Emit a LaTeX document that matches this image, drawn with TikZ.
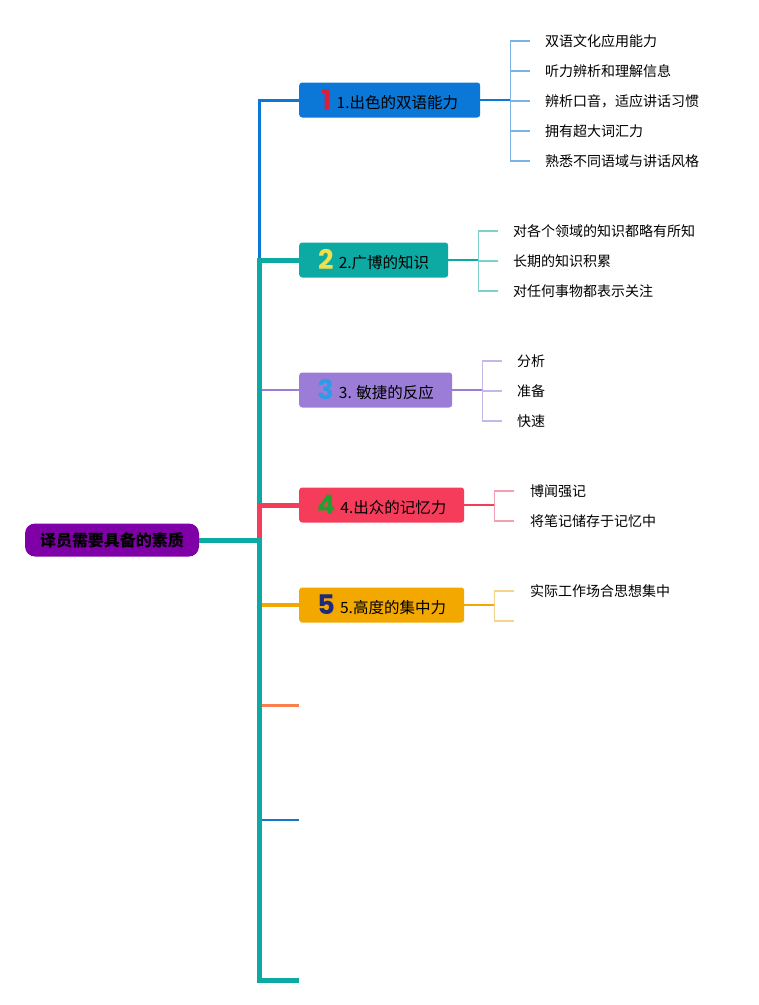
\documentclass[tikz,border=0pt]{standalone}
\usepackage{fontspec}
\setmainfont{Noto Sans CJK SC}
\newfontfamily\numfont{Poppins}
\usepackage{tikz}
\usepackage{xcolor}
\definecolor{rootpurple}{HTML}{7E00A6}
\definecolor{topicblue}{HTML}{0B77D6}
\definecolor{topicteal}{HTML}{0DAAA4}
\definecolor{topicviolet}{HTML}{9B7DD8}
\definecolor{topicred}{HTML}{F53D5B}
\definecolor{topicgold}{HTML}{F3A800}
\definecolor{lineorange}{HTML}{F7804E}
\definecolor{lineblue}{HTML}{1677C6}
\definecolor{kidblue}{HTML}{7DB3E0}
\definecolor{kidteal}{HTML}{7ED0CC}
\definecolor{kidviolet}{HTML}{C5B8E8}
\definecolor{kidred}{HTML}{F0A0B0}
\definecolor{kidgold}{HTML}{F5D48C}
\definecolor{numred}{HTML}{D8203C}
\definecolor{numyellow}{HTML}{F2DF4C}
\definecolor{numblue}{HTML}{2E9BE6}
\definecolor{numgreen}{HTML}{22A02F}
\definecolor{numnavy}{HTML}{1E2A7A}
\newcommand{\bignum}[2]{{\numfont\fontsize{27}{27}\selectfont\bfseries\color{#1}\raisebox{-1pt}{#2}}}
\tikzset{
    root-box/.style = {fill=rootpurple, rounded corners=10pt, minimum width=174pt, minimum height=33pt, inner sep=0pt, font=\fontsize{16}{18}\selectfont\bfseries},
    topic-box/.style = {rounded corners=3pt, anchor=west, minimum height=35pt, inner sep=0pt, font=\fontsize{15.5}{18}\selectfont},
    sub-text/.style = {anchor=west, inner sep=0pt, font=\fontsize{14}{16}\selectfont},
    kid-line/.style = {line width=1.5pt},
}
\begin{document}
\begin{tikzpicture}[x=1pt, y=-1pt]
\useasboundingbox (0,0) rectangle (759,1005);
\node [root-box] (root) at (112,540) {译员需要具备的素质};
\node [topic-box, fill=topicblue, minimum width=181pt] (b1) at (299,100) {\bignum{numred}{1}\,\,1.出色的双语能力};
\node [topic-box, fill=topicteal, minimum width=149pt] (b2) at (299,260) {\bignum{numyellow}{2}\,\,2.广博的知识};
\node [topic-box, fill=topicviolet, minimum width=153pt] (b3) at (299,390) {\bignum{numblue}{3}\,\,3. 敏捷的反应};
\node [topic-box, fill=topicred, minimum width=165pt] (b4) at (299,505) {\bignum{numgreen}{4}\,\,4.出众的记忆力};
\node [topic-box, fill=topicgold, minimum width=165pt] (b5) at (299,605) {\bignum{numnavy}{5}\,\,5.高度的集中力};
\coordinate (hub) at (259,540);
\coordinate (e1) at (299,705);
\coordinate (e2) at (299,820);
\coordinate (e3) at (299,980);

\draw [topicblue, line width=3pt] (root.east) -- (hub) |- (b1.west);
\draw [topicviolet, line width=2pt] (root.east) -- (hub) |- (b3.west);
\draw [topicteal, line width=5pt] (root.east) -- (hub) |- (b2.west);
\draw [topicred, line width=5pt] (root.east) -- (hub) |- (b4.west);
\draw [topicgold, line width=4pt] (root.east) -- (hub) |- (b5.west);
\draw [lineorange, line width=3pt] (root.east) -- (hub) |- (e1);
\draw [lineblue, line width=2pt] (root.east) -- (hub) |- (e2);
\draw [topicteal, line width=5pt] (root.east) -- (hub) |- (e3);

\node [sub-text] (k11) at (545,41) {双语文化应用能力};
\node [sub-text] (k12) at (545,71) {听力辨析和理解信息};
\node [sub-text] (k13) at (545,101) {辨析口音，适应讲话习惯};
\node [sub-text] (k14) at (545,131) {拥有超大词汇力};
\node [sub-text] (k15) at (545,161) {熟悉不同语域与讲话风格};
\draw [topicblue, line width=2pt] (b1.east) -- ++(30,0) coordinate (j1);
\draw [kidblue, kid-line] (j1 |- k11.west) -- ++(20,0) (j1 |- k12.west) -- ++(20,0) (j1 |- k13.west) -- ++(20,0) (j1 |- k14.west) -- ++(20,0) (j1 |- k15.west) -- ++(20,0);
\draw [kidblue, kid-line] (j1 |- k11.west) -- (j1 |- k15.west);

\node [sub-text] (k21) at (513,231) {对各个领域的知识都略有所知};
\node [sub-text] (k22) at (513,261) {长期的知识积累};
\node [sub-text] (k23) at (513,291) {对任何事物都表示关注};
\draw [topicteal, line width=2pt] (b2.east) -- ++(30,0) coordinate (j2);
\draw [kidteal, kid-line] (j2 |- k21.west) -- ++(20,0) (j2 |- k22.west) -- ++(20,0) (j2 |- k23.west) -- ++(20,0);
\draw [kidteal, kid-line] (j2 |- k21.west) -- (j2 |- k23.west);

\node [sub-text] (k31) at (517,361) {分析};
\node [sub-text] (k32) at (517,391) {准备};
\node [sub-text] (k33) at (517,421) {快速};
\draw [topicviolet, line width=2pt] (b3.east) -- ++(30,0) coordinate (j3);
\draw [kidviolet, kid-line] (j3 |- k31.west) -- ++(20,0) (j3 |- k32.west) -- ++(20,0) (j3 |- k33.west) -- ++(20,0);
\draw [kidviolet, kid-line] (j3 |- k31.west) -- (j3 |- k33.west);

\node [sub-text] (k41) at (530,491) {博闻强记};
\node [sub-text] (k42) at (530,521) {将笔记储存于记忆中};
\draw [topicred, line width=2pt] (b4.east) -- ++(30,0) coordinate (j4);
\draw [kidred, kid-line] (j4 |- k41.west) -- ++(20,0) (j4 |- k42.west) -- ++(20,0);
\draw [kidred, kid-line] (j4 |- k41.west) -- (j4 |- k42.west);

\node [sub-text] (k51) at (530,591) {实际工作场合思想集中};
\coordinate (k52) at (530,621);
\draw [topicgold, line width=2pt] (b5.east) -- ++(30,0) coordinate (j5);
\draw [kidgold, kid-line] (j5 |- k51.west) -- ++(20,0) (j5 |- k52) -- ++(20,0);
\draw [kidgold, kid-line] (j5 |- k51.west) -- (j5 |- k52);
\end{tikzpicture}
\end{document}
